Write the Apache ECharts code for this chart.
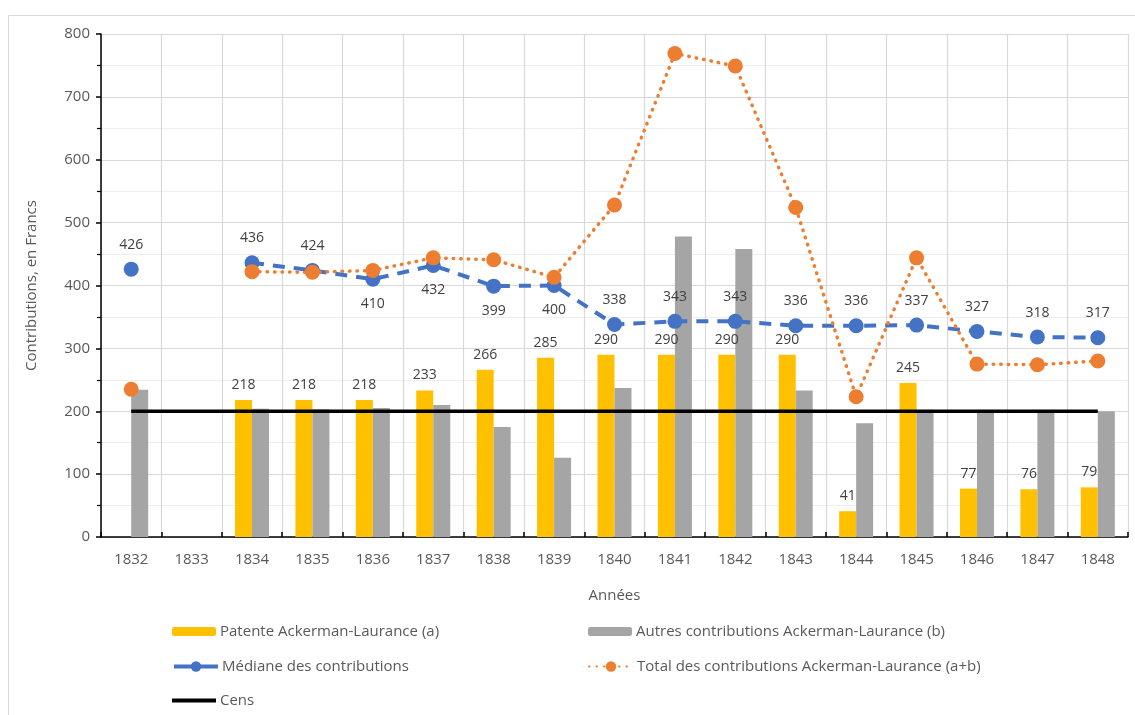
<!DOCTYPE html>
<html><head><meta charset="utf-8">
<script src="https://cdn.jsdelivr.net/npm/echarts@6/dist/echarts.min.js"></script>
<style>html,body{margin:0;padding:0;background:#fff}#c{width:1135px;height:715px}</style>
</head><body><div id="c"></div>
<script>
const years = ['1832','1833','1834','1835','1836','1837','1838','1839','1840','1841','1842','1843','1844','1845','1846','1847','1848'];
const patente = [null,null,218,218,218,233,266,285,290,290,290,290,41,245,77,76,79];
const autres  = [234,null,204,203,205,210,175,126,237,478,458,233,181,199,199,199,200];
const mediane = [426,null,436,424,410,432,399,400,338,343,343,336,336,337,327,318,317];
const total   = [235,null,422,421,424,444,441,413,528,769,749,524,223,444,275,274,280];
const cens    = [200,200,200,200,200,200,200,200,200,200,200,200,200,200,200,200,200];
const medianLabelBelow = ['1836','1837','1838','1839'];

const names = {
  a: 'Patente Ackerman-Laurance (a)',
  b: 'Autres contributions Ackerman-Laurance (b)',
  m: 'Médiane des contributions',
  t: 'Total des contributions Ackerman-Laurance (a+b)',
  c: 'Cens'
};
const FONT = 'Open Sans';
const txt = '#595959';
const lab = '#404040';

const chart = echarts.init(document.getElementById('c'), null, {renderer: 'canvas'});

function legend(item, left, top, w, h, extra) {
  return Object.assign({
    data: [item], left: left, top: top, itemWidth: w, itemHeight: h, itemGap: 4,
    textStyle: {color: txt, fontFamily: FONT, fontSize: 15, padding: [0, 0, 0, -1]},
    selectedMode: false, padding: 0
  }, extra || {});
}

const medianData = mediane.map((v, i) => ({
  value: v,
  label: {position: medianLabelBelow.includes(years[i]) ? 'bottom' : 'top'}
}));

chart.setOption({
  animation: false,
  textStyle: {fontFamily: FONT},
  graphic: [{
    type: 'rect', shape: {x: 8.5, y: 15.5, width: 1140, height: 720},
    style: {fill: 'none', stroke: '#d9d9d9', lineWidth: 1}, z: -1
  }],
  grid: {left: 101, top: 34, right: 7, bottom: 178, containLabel: false},
  legend: [
    legend(names.a, 172, 624, 44, 9),
    legend(names.b, 588, 624, 44, 9),
    legend(names.m, 172, 659, 44, 13, {lineStyle: {type: 'solid', width: 4}}),
    legend(names.t, 588, 659, 44, 13),
    legend({name: names.c, icon: 'rect'}, 172, 693, 44, 4)
  ],
  xAxis: {
    type: 'category', data: years, boundaryGap: true,
    name: 'Années', nameLocation: 'middle', nameGap: 51,
    nameTextStyle: {color: txt, fontSize: 15, fontFamily: FONT},
    axisLine: {lineStyle: {color: '#000', width: 1.5}},
    axisTick: {show: true, inside: true, length: 5, interval: 0, lineStyle: {color: '#000', width: 1.5}},
    axisLabel: {color: txt, fontSize: 15, margin: 15, interval: 0, fontFamily: FONT},
    splitLine: {show: true, interval: 0, lineStyle: {color: '#d9d9d9', width: 1.2}}
  },
  yAxis: {
    type: 'value', min: 0, max: 800, interval: 100,
    name: 'Contributions, en Francs', nameLocation: 'middle', nameGap: 62, nameRotate: 90,
    nameTextStyle: {color: txt, fontSize: 15, fontFamily: FONT},
    axisLine: {show: true, lineStyle: {color: '#000', width: 1.5}},
    axisTick: {show: true, length: 5, lineStyle: {color: '#000', width: 1.5}},
    minorTick: {show: true, splitNumber: 2, length: 4, lineStyle: {color: '#000', width: 1.2}},
    axisLabel: {color: txt, fontSize: 15, margin: 11, fontFamily: FONT},
    splitLine: {show: true, lineStyle: {color: '#d9d9d9', width: 1.2}},
    minorSplitLine: {show: true, lineStyle: {color: '#eeeeee', width: 1}}
  },
  series: [
    {
      name: names.a, type: 'bar', data: patente, barWidth: 17, barGap: '0%',
      itemStyle: {color: '#FFC000'},
      label: {show: true, position: 'top', distance: 8, color: lab, fontSize: 14, fontFamily: FONT}
    },
    {
      name: names.b, type: 'bar', data: autres, barWidth: 17, barGap: '0%',
      itemStyle: {color: '#A5A5A5'}
    },
    {
      name: names.c, type: 'line', data: cens, symbol: 'none',
      lineStyle: {color: '#000', width: 3.5}, itemStyle: {color: '#000'}, z: 3
    },
    {
      name: names.m, type: 'line', data: medianData, connectNulls: false,
      symbol: 'circle', symbolSize: 15,
      itemStyle: {color: '#4472C4'},
      lineStyle: {color: '#4472C4', width: 4, type: [12, 9]},
      label: {show: true, distance: 10, color: lab, fontSize: 14, fontFamily: FONT},
      z: 4
    },
    {
      name: names.t, type: 'line', data: total, connectNulls: false,
      symbol: 'circle', symbolSize: 15,
      itemStyle: {color: '#ED7D31'},
      lineStyle: {color: '#ED7D31', width: 3.5, type: [0.5, 7], cap: 'round'},
      z: 5
    }
  ]
});
</script></body></html>
